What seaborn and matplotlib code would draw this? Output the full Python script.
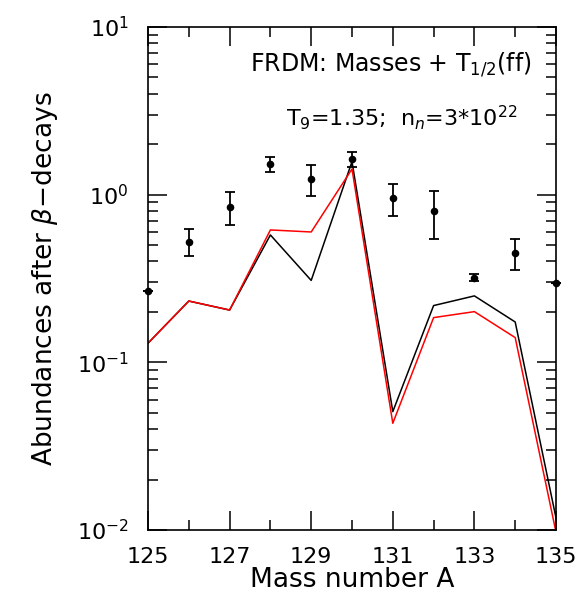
import numpy as np
import pandas as pd
import seaborn as sns
import matplotlib.pyplot as plt
from matplotlib.ticker import MultipleLocator, LogLocator, NullFormatter

# Mass numbers
mass_a = [125, 126, 127, 128, 129, 130, 131, 132, 133, 134, 135]
x_ticks = [125, 127, 129, 131, 133, 135]

# Solar r-process abundances (points) with error range
obs_val = [0.267, 0.524, 0.848, 1.524, 1.235, 1.626, 0.952, 0.799, 0.320, 0.449, 0.2975]
obs_lo = [0.267, 0.433, 0.660, 1.365, 0.978, 1.469, 0.746, 0.546, 0.307, 0.357, 0.2975]
obs_hi = [0.267, 0.622, 1.038, 1.685, 1.497, 1.798, 1.158, 1.048, 0.3365, 0.542, 0.2975]

# Calculated abundances after beta-decays
calc_black = [0.130, 0.232, 0.205, 0.575, 0.308, 1.574, 0.0508, 0.218, 0.249, 0.174, 0.0118]
calc_red = [0.130, 0.232, 0.205, 0.616, 0.599, 1.422, 0.0433, 0.1848, 0.2006, 0.1404, 0.0097]

df = pd.DataFrame({'A': mass_a, 'obs': obs_val, 'lo': obs_lo, 'hi': obs_hi,
                   'black': calc_black, 'red': calc_red})

sns.set_style('ticks')
plt.rcParams['font.family'] = ['DejaVu Sans']
plt.rcParams['mathtext.fontset'] = 'dejavusans'
for k in ['text.color', 'axes.labelcolor', 'xtick.color', 'ytick.color', 'axes.edgecolor']:
    plt.rcParams[k] = 'black'

fig = plt.figure(figsize=(5.77, 6.07), dpi=100)
ax = fig.add_axes([0.2565, 0.1269, 0.7071, 0.8286])

sns.lineplot(data=df, x='A', y='black', color='black', linewidth=1.1, ax=ax)
sns.lineplot(data=df, x='A', y='red', color='red', linewidth=1.1, ax=ax)

yerr = np.array([df['obs'] - df['lo'], df['hi'] - df['obs']])
ax.errorbar(df['A'], df['obs'], yerr=yerr, fmt='none', ecolor='black',
            elinewidth=1.3, capsize=3.5, capthick=1.3, clip_on=False)
sns.scatterplot(data=df, x='A', y='obs', color='black', s=30, edgecolor='black',
                linewidth=0, ax=ax, clip_on=False, zorder=5)

ax.set_yscale('log')
ax.set_xlim(125, 135)
ax.set_ylim(1e-2, 1e1)

ax.set_xticks(x_ticks)
ax.xaxis.set_minor_locator(MultipleLocator(1))
ax.yaxis.set_major_locator(LogLocator(base=10, numticks=10))
ax.yaxis.set_minor_locator(LogLocator(base=10, subs=np.arange(2, 10), numticks=10))
ax.yaxis.set_minor_formatter(NullFormatter())

ax.tick_params(which='both', direction='in', top=True, right=True, width=1.1, labelsize=16)
ax.tick_params(which='major', length=14)
ax.tick_params(which='minor', length=7)
ax.tick_params(axis='x', pad=12)
ax.tick_params(axis='y', pad=14)
for s in ax.spines.values():
    s.set_linewidth(1.2)

ax.set_xlabel('Mass number A', fontsize=19, labelpad=0)
ax.set_ylabel(r'Abundances after $\beta$$-$decays', fontsize=19, labelpad=12)

ax.text(0.94, 0.925, r'FRDM: Masses + T$_{1/2}$(ff)', transform=ax.transAxes,
        ha='right', va='center', fontsize=17)
ax.text(0.905, 0.82, r'T$_9$=1.35;  n$_n$=3$*$10$^{22}$', transform=ax.transAxes,
        ha='right', va='center', fontsize=16)

fig.savefig('out.png', dpi=100)
